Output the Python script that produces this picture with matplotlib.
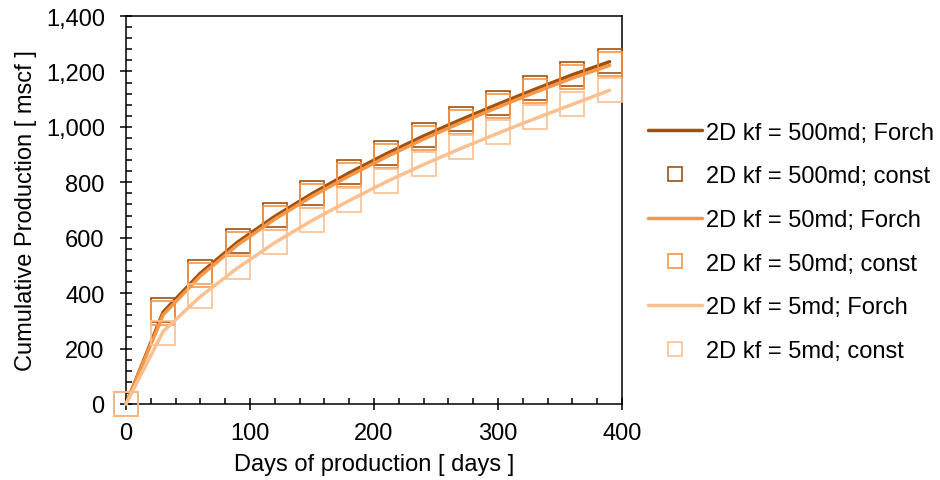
import matplotlib
matplotlib.use("Agg")
import matplotlib.pyplot as plt
from matplotlib.ticker import MultipleLocator, FuncFormatter

plt.rcParams['font.family'] = ['Liberation Sans', 'DejaVu Sans']

# Cumulative gas production vs. time for three fracture permeabilities
days = [0, 30, 60, 90, 120, 150, 180, 210, 240, 270, 300, 330, 360, 390]

forch_500 = [0, 332, 472, 584, 677, 759, 834, 903, 967, 1026, 1082, 1136, 1188, 1235]
const_500 = [0, 338, 477, 588, 681, 762, 837, 906, 970, 1029, 1085, 1139, 1191, 1237]
forch_50 = [0, 322, 462, 574, 667, 749, 823, 892, 956, 1015, 1071, 1125, 1176, 1222]
const_50 = [0, 328, 467, 578, 671, 752, 827, 896, 960, 1019, 1075, 1129, 1181, 1227]
forch_5 = [0, 262, 388, 491, 582, 662, 734, 802, 864, 922, 977, 1030, 1081, 1132]
const_5 = [0, 257, 389, 493, 585, 665, 737, 806, 867, 926, 981, 1034, 1084, 1132]

labels = [
    "2D kf = 500md; Forch", "2D kf = 500md; const",
    "2D kf = 50md; Forch", "2D kf = 50md; const",
    "2D kf = 5md; Forch", "2D kf = 5md; const",
]

c_dark = "#A0500F"
c_mid = "#F79646"
c_light = "#FAC090"

FS = 17

fig = plt.figure(figsize=(9.4, 4.81), dpi=100)
ax = fig.add_axes([126 / 940, 1 - 405 / 481, (622 - 126) / 940, (405 - 17) / 481])

series = [
    (forch_500, const_500, c_dark),
    (forch_50, const_50, c_mid),
    (forch_5, const_5, c_light),
]
z = 3
for i, (f, c, col) in enumerate(series):
    ax.plot(days, f, color=col, lw=2.5, label=labels[2 * i], zorder=z,
            solid_capstyle='round', clip_on=False)
    ax.plot(days, c, linestyle='none', marker='s', markersize=17.5,
            markerfacecolor='none', markeredgecolor=col, markeredgewidth=1.2,
            label=labels[2 * i + 1], zorder=z + 1, clip_on=False)
    z += 2

ax.set_xlim(0, 400)
ax.set_ylim(0, 1400)
ax.xaxis.set_major_locator(MultipleLocator(100))
ax.xaxis.set_minor_locator(MultipleLocator(20))
ax.yaxis.set_major_locator(MultipleLocator(200))
ax.yaxis.set_minor_locator(MultipleLocator(40))
ax.yaxis.set_major_formatter(FuncFormatter(lambda v, p: f"{int(v):,}"))

ax.tick_params(which='major', direction='inout', length=8.6, width=1.1,
               labelsize=FS, colors='black')
ax.tick_params(axis='y', which='major', pad=11)
ax.tick_params(axis='x', which='major', pad=9)
ax.tick_params(which='minor', direction='in', length=4.3, width=1.1)
for s in ax.spines.values():
    s.set_linewidth(1.1)
    s.set_color('black')

ax.set_xlabel("Days of production [ days ]", fontsize=FS, labelpad=6)
ax.set_ylabel("Cumulative Production [ mscf ]", fontsize=FS, labelpad=6)

leg = ax.legend(loc='center left', bbox_to_anchor=(1.033, 0.418), frameon=False,
                fontsize=FS, handlelength=2.3, handletextpad=0.17,
                labelspacing=0.92, markerscale=0.6, borderaxespad=0)

fig.savefig("out.png", dpi=100)
